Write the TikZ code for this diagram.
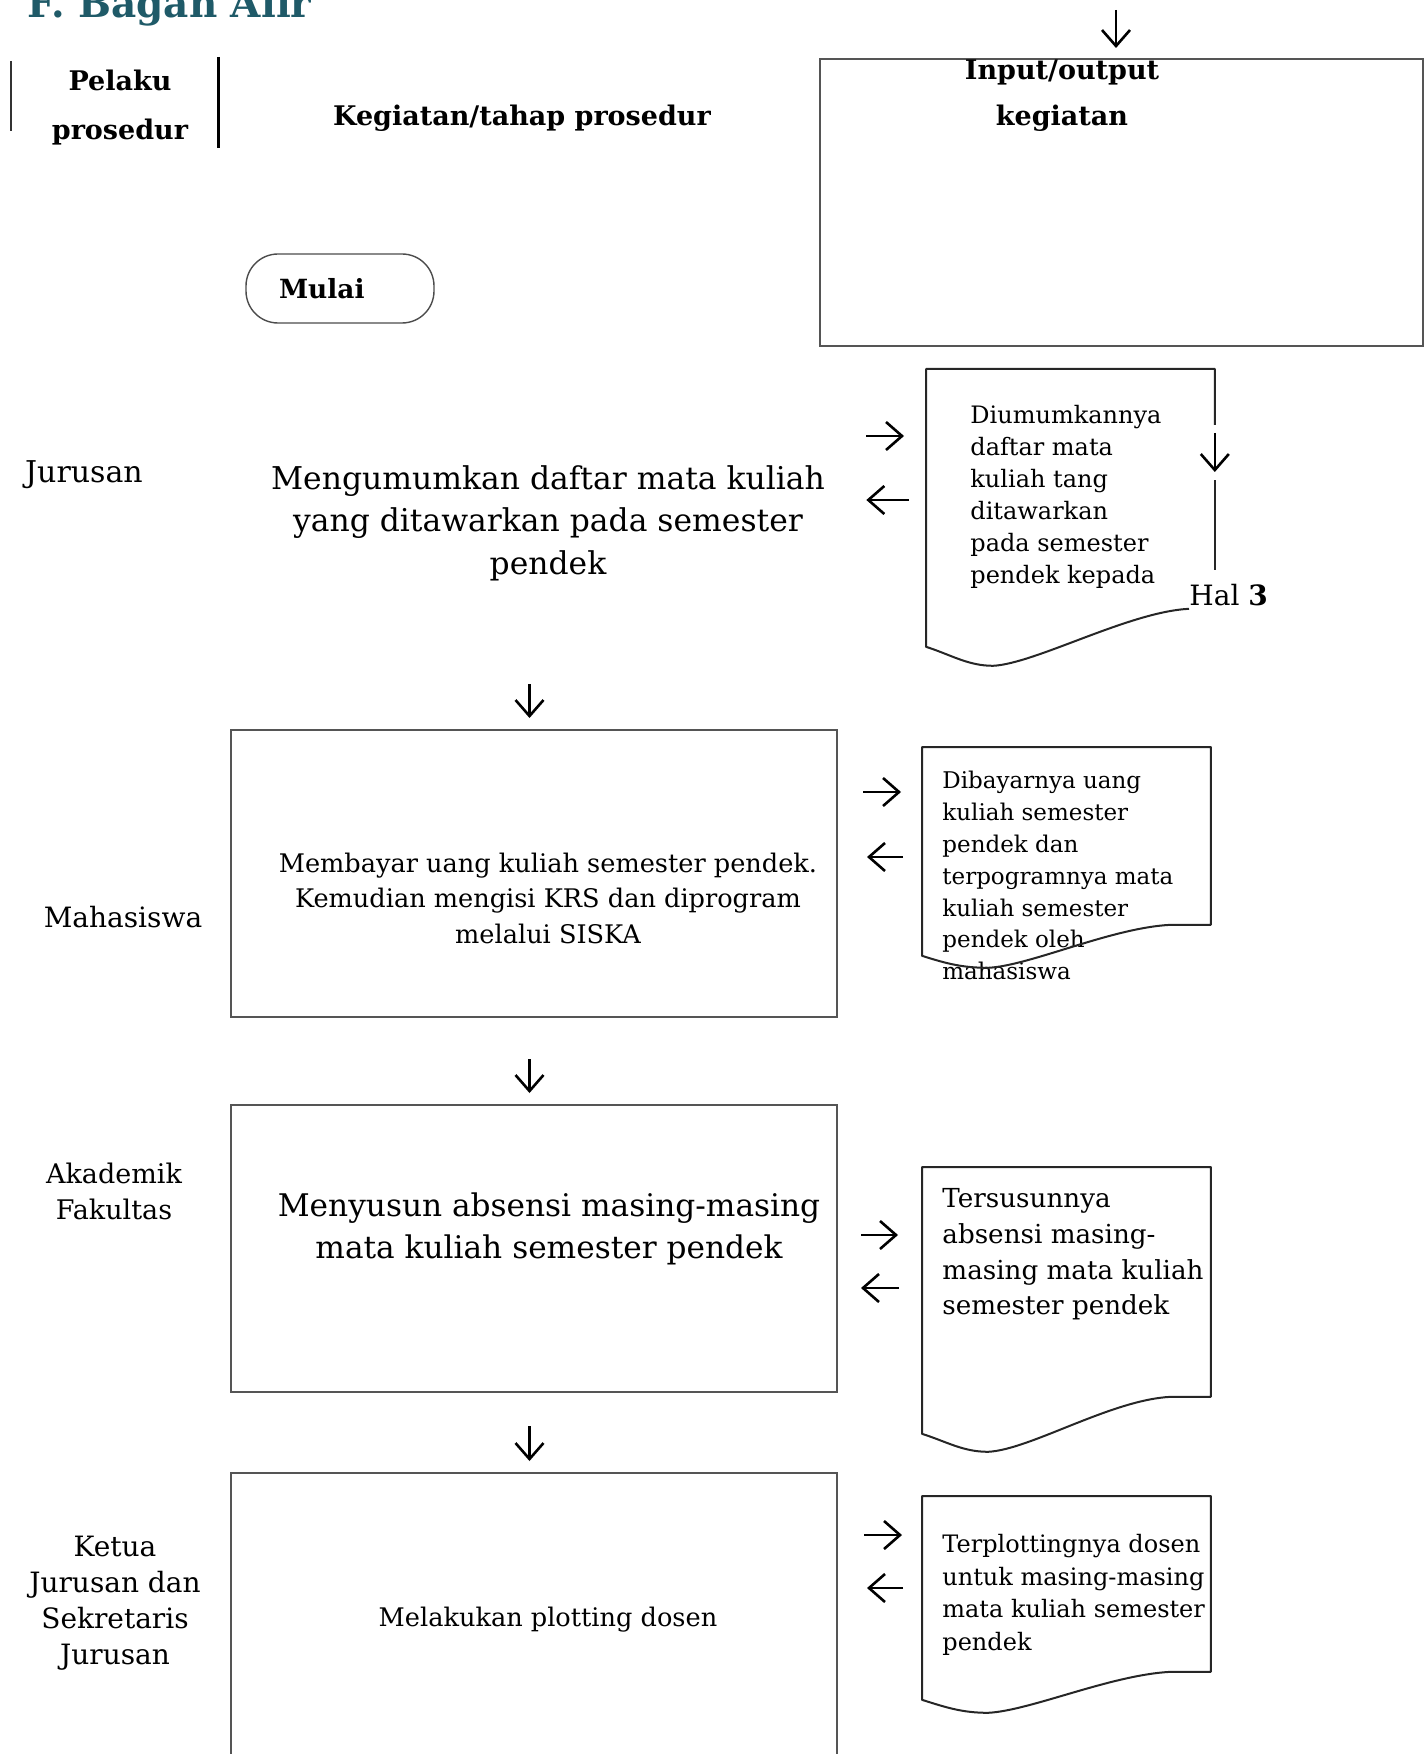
\documentclass[tikz,border=0pt]{standalone}
\usepackage{fontspec}
\setmainfont{DejaVu Serif}
\usepackage{tikz}
\usetikzlibrary{arrows.meta,positioning,calc}
\definecolor{titleteal}{HTML}{1F5A68}
\definecolor{boxgray}{HTML}{555555}

\begin{document}
\begin{tikzpicture}[
  x=0.5pt, y=-0.5pt, >={Straight Barb[length=8pt,width=14pt]},
  flow/.style={->, line width=1.3pt},
  down/.style={flow, transform canvas={xshift=-2.25pt}},
  actbox/.style={draw=boxgray, line width=1pt, minimum width=303pt, minimum height=143.5pt, anchor=north west},
  acttxt/.style={align=center, inner sep=0pt},
  docbox/.style={minimum width=144pt, inner sep=0pt, anchor=north west},
  docline/.style={draw=black!85, line width=1pt, line join=round},
  doctxt/.style={anchor=north west, align=left, inner sep=0pt},
  lane/.style={align=center, inner sep=0pt},
  hdr/.style={align=center, inner sep=0pt, font=\bfseries\fontsize{13.5}{24.5}\selectfont}]
\useasboundingbox (0,0) rectangle (1423,1754);

\node[anchor=base west, inner sep=0pt, text=titleteal, font=\bfseries\fontsize{19.5}{22}\selectfont] (title) at (27,18) {F. Bagan Alir};

% header
\draw[line width=0.7pt, black!80] (11,61) -- (11,131);
\draw[line width=1.5pt] (218,57) -- (218,148);
\node[hdr] (hdActor) at (120,108) {Pelaku\\prosedur};
\node[hdr, anchor=base] (hdStep) at (522,126) {Kegiatan/tahap prosedur};
\node[draw=boxgray, line width=1pt, minimum width=301.5pt, minimum height=143.5pt, anchor=north west] (ioBox) at (819,58) {};
\node[hdr, font=\bfseries\fontsize{13.5}{23}\selectfont] (hdIO) at (1062,96) {Input/output\\kegiatan};
\draw[flow] ([xshift=-2.75pt, yshift=24pt]ioBox.north) -- ([xshift=-2.75pt, yshift=5pt]ioBox.north);

\node[draw=black!70, line width=0.7pt, rounded corners=16pt, minimum height=34.5pt, text width=61pt, inner xsep=16.5pt, align=left, font=\bfseries\fontsize{13.2}{15}\selectfont] (start) at (340,288.5) {Mulai};

% Jurusan
\node[lane, font=\fontsize{15}{18}\selectfont] (lane1) at (84,474.5) {Jurusan};
\node[acttxt, font=\fontsize{15.7}{21.25}\selectfont] (act1) at (548,523) {Mengumumkan daftar mata kuliah\\yang ditawarkan pada semester\\pendek};
\node[docbox, minimum height=119.5pt] (doc1) at (926,369) {};
\node[doctxt, font=\fontsize{12}{16}\selectfont] (out1) at (970,405) {Diumumkannya\\daftar mata\\kuliah tang\\ditawarkan\\pada semester\\pendek kepada};
\node[anchor=base west, inner sep=0pt, font=\fontsize{14}{16}\selectfont] (hal) at (1189,605) {Hal \textbf{3}};
\draw[docline] (doc1.east |- 0,425) -- (doc1.north east) -- (doc1.north west)
  -- ($(doc1.south west)+(0,38)$) .. controls +(25,8) and +(-25,0) .. ($(doc1.south west)+(67,57)$)
  .. controls +(42,-2) and +(-60,3) .. (doc1.south -| hal.west);
\draw[flow] (doc1.east |- 0,433) -- (doc1.east |- 0,472);
\draw[docline] (doc1.east |- 0,480) -- (doc1.east |- 0,570);
\draw[flow, shorten <=20.5pt, shorten >=11pt] (act1.east |- 0,436) -- (doc1.west |- 0,436);
\draw[flow, shorten <=8.5pt, shorten >=20.5pt] (doc1.west |- 0,500) -- (act1.east |- 0,500);

% Mahasiswa
\node[lane, font=\fontsize{14}{18}\selectfont] (lane2) at (123,917) {Mahasiswa};
\node[actbox] (box2) at (230,729) {};
\node[acttxt, font=\fontsize{12.8}{17.75}\selectfont] (act2) at (548,898) {Membayar uang kuliah semester pendek.\\Kemudian mengisi KRS dan diprogram\\melalui SISKA};
\node[docbox, minimum height=88.5pt] (doc2) at (922,747) {};
\node[doctxt, font=\fontsize{11.5}{15.9}\selectfont] (out2) at (942,771) {Dibayarnya uang\\kuliah semester\\pendek dan\\terpogramnya mata\\kuliah semester\\pendek oleh\\mahasiswa};
\draw[down, shorten <=51.5pt, shorten >=5.5pt] (act1.south -| box2.north) -- (box2.north);
\draw[flow, shorten <=12.5pt, shorten >=10.5pt] (box2.east |- 0,792) -- (doc2.west |- 0,792);
\draw[flow, shorten <=9.5pt, shorten >=14.5pt] (doc2.west |- 0,857) -- (box2.east |- 0,857);

% Akademik Fakultas
\node[lane, font=\fontsize{13.5}{18}\selectfont] (lane3) at (114,1191.5) {Akademik\\Fakultas};
\node[actbox] (box3) at (230,1104) {};
\node[acttxt, font=\fontsize{15.6}{21}\selectfont] (act3) at (549,1229) {Menyusun absensi masing-masing\\mata kuliah semester pendek};
\node[docbox, minimum height=114.5pt] (doc3) at (922,1167) {};
\node[doctxt, font=\fontsize{13.1}{17.9}\selectfont] (out3) at (942,1188) {Tersusunnya\\absensi masing-\\masing mata kuliah\\semester pendek};
\draw[down, shorten <=20.5pt, shorten >=5.5pt] (box2.south) -- (box3.north);
\draw[flow, shorten <=11.5pt, shorten >=12pt] (box3.east |- 0,1235) -- (doc3.west |- 0,1235);
\draw[flow, shorten <=11.5pt, shorten >=11.5pt] (doc3.west |- 0,1288) -- (box3.east |- 0,1288);

% Ketua dan Sekretaris Jurusan
\node[lane, font=\fontsize{14}{18}\selectfont] (lane4) at (115,1603.5) {Ketua\\Jurusan dan\\Sekretaris\\Jurusan};
\node[actbox] (box4) at (230,1472) {};
\node[acttxt, font=\fontsize{12.8}{17}\selectfont] (act4) at (548,1620) {Melakukan plotting dosen};
\node[docbox, minimum height=87.5pt] (doc4) at (922,1496) {};
\node[doctxt, font=\fontsize{12}{16.25}\selectfont] (out4) at (942,1534) {Terplottingnya dosen\\untuk masing-masing\\mata kuliah semester\\pendek};
\draw[down, shorten <=16.5pt, shorten >=5.5pt] (box3.south) -- (box4.north);
\draw[flow, shorten <=13pt, shorten >=10pt] (box4.east |- 0,1535) -- (doc4.west |- 0,1535);
\draw[flow, shorten <=9.5pt, shorten >=14.5pt] (doc4.west |- 0,1588) -- (box4.east |- 0,1588);

\foreach \d/\l/\m in {doc2/31/43, doc3/37/55, doc4/28/41}
  \draw[docline] (\d.south east) -- (\d.north east) -- (\d.north west)
    -- ($(\d.south west)+(0,\l)$) .. controls +(25,8) and +(-25,0) .. ($(\d.south west)+(66,\m)$)
    .. controls +(42,-2) and +(-60,3) .. ($(\d.south east)+(-40,0)$) -- cycle;
\end{tikzpicture}
\end{document}
